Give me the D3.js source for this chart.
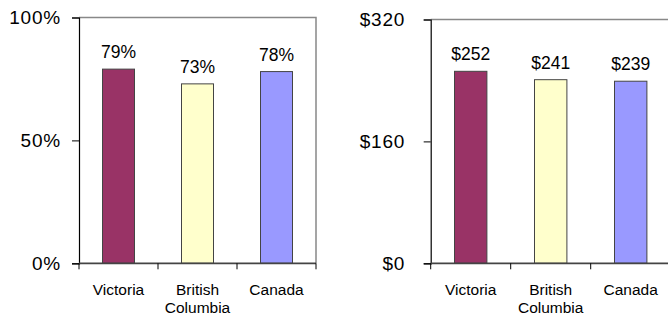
<!DOCTYPE html>
<html>
<head>
<meta charset="utf-8">
<script src="https://cdn.jsdelivr.net/npm/d3@7"></script>
<style>
  body { margin: 0; background: #fff; }
  svg { display: block; font-family: "Liberation Sans", Arial, sans-serif; }
</style>
</head>
<body>
<svg id="chart" width="668" height="315"></svg>
<script>
// data
const categories = ["Victoria", "British Columbia", "Canada"];
const pctValues = [79, 73, 78];
const dollarValues = [252, 241, 239];
const pctTicks = [0, 50, 100];
const dollarTicks = [0, 160, 320];
const barColors = ["#993366", "#FFFFCC", "#9999FF"];

const svg = d3.select("#chart");

function drawPanel(opts) {
  const g = svg.append("g");
  const x = d3.scaleBand().domain(categories).range([opts.left, opts.right]).padding(0);
  const y = d3.scaleLinear().domain([0, opts.max]).range([opts.bottom, opts.top]);
  const bw = x.bandwidth();
  const barW = bw * 0.405;

  // top + right border of plot area
  g.append("path")
    .attr("d", "M" + opts.left + "," + opts.top + "H" + opts.right + "V" + opts.bottom)
    .attr("fill", "none")
    .attr("stroke", "#888")
    .attr("stroke-width", 1.5);

  // bars
  g.selectAll("rect.bar")
    .data(opts.values)
    .enter().append("rect")
    .attr("class", "bar")
    .attr("x", (d, i) => x(categories[i]) + (bw - barW) / 2)
    .attr("y", d => y(d))
    .attr("width", barW)
    .attr("height", d => opts.bottom - y(d))
    .attr("fill", (d, i) => barColors[i])
    .attr("stroke", "#444")
    .attr("stroke-width", 1);

  // value labels
  g.selectAll("text.val")
    .data(opts.values)
    .enter().append("text")
    .attr("class", "val")
    .attr("x", (d, i) => x(categories[i]) + bw / 2)
    .attr("y", d => y(d) - 11)
    .attr("text-anchor", "middle")
    .style("font-size", "17.5px")
    .text(opts.fmt);

  // y axis
  const yAxis = d3.axisLeft(y)
    .tickValues(opts.ticks)
    .tickSize(7)
    .tickPadding(opts.pad)
    .tickFormat(opts.fmt);
  const ya = g.append("g")
    .attr("transform", "translate(" + opts.left + ",0)")
    .call(yAxis);
  ya.select(".domain").attr("stroke", "#000").attr("stroke-width", 1.2);
  ya.selectAll(".tick line").attr("stroke", "#000");
  ya.selectAll(".tick text")
    .attr("fill", "#000")
    .style("font-size", "19px")
    .style("letter-spacing", "0.8px")
    .style("font-family", "\"Liberation Sans\", Arial, sans-serif");

  // x axis line + ticks at band edges
  const edges = categories.map(c => x(c)).concat([opts.right]);
  g.append("line")
    .attr("x1", opts.left).attr("x2", opts.right)
    .attr("y1", opts.bottom).attr("y2", opts.bottom)
    .attr("stroke", "#444").attr("stroke-width", 1.8);
  g.selectAll("line.xt")
    .data(edges)
    .enter().append("line")
    .attr("class", "xt")
    .attr("x1", d => d).attr("x2", d => d)
    .attr("y1", opts.bottom).attr("y2", opts.bottom + 6)
    .attr("stroke", "#000").attr("stroke-width", 1);

  // category labels
  const cl = g.selectAll("text.cat")
    .data(categories)
    .enter().append("text")
    .attr("class", "cat")
    .attr("x", d => x(d) + bw / 2)
    .attr("y", opts.bottom + 32)
    .attr("text-anchor", "middle")
    .style("font-size", "15.5px");
  cl.each(function(d) {
    const words = d.split(" ");
    d3.select(this).selectAll("tspan")
      .data(words)
      .enter().append("tspan")
      .attr("x", x(d) + bw / 2)
      .attr("dy", (w, j) => j === 0 ? 0 : 18)
      .text(w => w);
  });
}

drawPanel({
  left: 79, right: 316, top: 17.5, bottom: 263.3,
  max: 100, ticks: pctTicks, values: pctValues, pad: 11,
  fmt: d => d + "%"
});

drawPanel({
  left: 430.7, right: 670.7, top: 19.5, bottom: 263.3,
  max: 320, ticks: dollarTicks, values: dollarValues, pad: 18.5,
  fmt: d => "$" + d
});
</script>
</body>
</html>
